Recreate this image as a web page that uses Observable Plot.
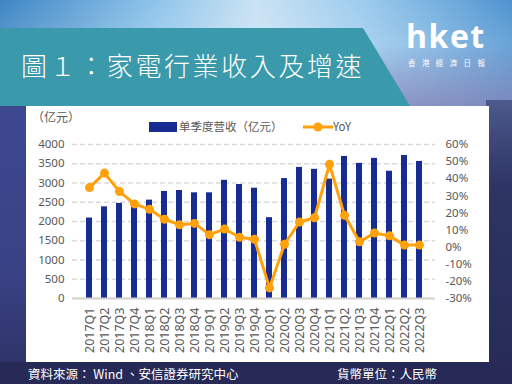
<!DOCTYPE html>
<html><head><meta charset="utf-8">
<script src="https://cdn.jsdelivr.net/npm/d3@7"></script>
<script src="https://cdn.jsdelivr.net/npm/@observablehq/plot@0.6"></script>
<style>
html,body{margin:0;padding:0;}
body{width:512px;height:384px;position:relative;overflow:hidden;background:#282c5a;font-family:"Noto Sans CJK TC","Noto Sans",sans-serif;}
#top{position:absolute;left:0;top:0;width:512px;height:110px;background:linear-gradient(90deg,#3f86c4 0%,#8ec4ea 30%,#c9e2f3 50%,#9fcdee 70%,#4f94d0 100%);}
#topshade{position:absolute;left:0;top:0;width:512px;height:110px;background:linear-gradient(180deg,rgba(255,255,255,0) 0%,rgba(255,255,255,0.15) 40%,rgba(140,130,180,0.75) 100%);}
#rightstrip{position:absolute;left:486px;top:100px;width:26px;height:284px;background:linear-gradient(180deg,#4c5a8c 0%,#2d3564 30%,#272a56 100%);}
#leftstrip{position:absolute;left:0;top:100px;width:27px;height:284px;background:linear-gradient(180deg,#3d4890 0%,#3a4286 60%,#2c3062 100%);}
#bottom{position:absolute;left:0;top:362px;width:512px;height:22px;background:#272a56;}
#banner{position:absolute;left:0;top:28px;width:410px;height:78px;background:#3a99ab;clip-path:polygon(0 0,363px 0,410px 78px,0 78px);}
#title{position:absolute;left:21px;top:48px;color:#fff;font-size:26px;letter-spacing:2.6px;font-family:"Noto Sans CJK TC",sans-serif;font-weight:300;white-space:nowrap;line-height:34px;}
#logo{position:absolute;left:406px;top:20px;color:#fff;font-family:"Open Sans","Liberation Sans",sans-serif;font-weight:700;font-size:32px;letter-spacing:1.5px;line-height:32px;}
#logosub{position:absolute;left:408px;top:58px;color:#fff;font-size:7.5px;letter-spacing:6.4px;white-space:nowrap;line-height:9px;}
#panel{position:absolute;left:26px;top:106px;width:463px;height:256px;background:#fff;}
#unit{position:absolute;left:32px;top:108px;color:#595959;font-size:12px;font-family:"Noto Sans CJK SC",sans-serif;}
.leg{position:absolute;top:118px;color:#595959;font-size:11.5px;font-family:"Noto Sans CJK SC",sans-serif;white-space:nowrap;line-height:16px;}
#src{position:absolute;left:28px;top:364px;color:#fff;font-size:12.5px;white-space:nowrap;}
#cur{position:absolute;left:337px;top:364px;color:#fff;font-size:12.5px;white-space:nowrap;}
#chart{position:absolute;left:26px;top:106px;}
</style></head>
<body>
<div id="top"></div><div id="topshade"></div>
<div id="rightstrip"></div><div id="leftstrip"></div><div id="bottom"></div>
<div id="banner"></div>
<div id="title">圖１：家電行業收入及增速</div>
<div id="logo">hket</div>
<div id="logosub">香港經濟日報</div>
<div id="panel"></div>
<div id="chart"></div>
<div id="unit">（亿元）</div>
<div class="leg" style="left:149px;"><span style="display:inline-block;width:28px;height:10px;background:#172c92;vertical-align:-1px;margin-right:2px;"></span>单季度营收（亿元）</div>
<div class="leg" style="left:303px;"><svg width="30" height="12" style="vertical-align:-2px"><line x1="0" y1="6" x2="30" y2="6" stroke="#ffa10a" stroke-width="3"/><circle cx="15" cy="6" r="4.5" fill="#ffa10a"/></svg>YoY</div>
<div id="src">資料來源： Wind 、安信證券研究中心</div>
<div id="cur">貨幣單位：人民幣</div>
<script>
const quarters = ["2017Q1","2017Q2","2017Q3","2017Q4","2018Q1","2018Q2","2018Q3","2018Q4","2019Q1","2019Q2","2019Q3","2019Q4","2020Q1","2020Q2","2020Q3","2020Q4","2021Q1","2021Q2","2021Q3","2021Q4","2022Q1","2022Q2","2022Q3"];
const revenue = [2090,2380,2470,2430,2555,2780,2805,2745,2745,3070,2960,2865,2100,3115,3405,3355,3100,3690,3510,3640,3305,3715,3560];
const yoy = [34.8,43.3,32.5,25.3,22.1,16.3,13.1,13.9,7.3,10.6,5.8,4.6,-23.8,1.7,14.7,17.2,48.4,18.6,3.1,8.3,6.6,1.2,1.2];
const leftTicks = [0,500,1000,1500,2000,2500,3000,3500,4000];
const rightTicks = [-30,-20,-10,0,10,20,30,40,50,60];

const yMin = -30, yMax = 60, revMax = 4000;
const toRev = p => (p - yMin) / (yMax - yMin) * revMax;
const barData = quarters.map((q,i)=>({q, v: revenue[i]}));
const lineData = quarters.map((q,i)=>({q, v: toRev(yoy[i])}));

const fontFam = "'Noto Sans','Liberation Sans',sans-serif";
const chart = Plot.plot({
  width: 463, height: 256,
  marginLeft: 46, marginRight: 54, marginTop: 38, marginBottom: 64,
  style: {fontFamily: fontFam, fontSize: "11.5px", color: "#595959", background: "transparent"},
  x: {domain: quarters, paddingInner: 0.62, paddingOuter: 0.38, label: null},
  y: {domain: [0, revMax], label: null},
  marks: [
    Plot.ruleY(leftTicks.filter(d=>d>0), {stroke: "#d9d9d9", strokeWidth: 1.3, strokeDasharray: "5,3"}),
    Plot.barY(barData, {x: "q", y: "v", fill: "#172c92"}),
    Plot.ruleY([0], {stroke: "#d0d0d0", strokeWidth: 2}),
    Plot.line(lineData, {x: "q", y: "v", stroke: "#ffa10a", strokeWidth: 3}),
    Plot.dot(lineData, {x: "q", y: "v", fill: "#ffa10a", r: 4.5}),
    Plot.axisY({ticks: leftTicks, tickSize: 0, tickPadding: 8, label: null, fill: "#595959", fontSize: 11.5, tickFormat: d => String(d)}),
    Plot.axisY({anchor: "right", ticks: rightTicks.map(toRev), tickSize: 0, tickPadding: 10, label: null, fill: "#595959", fontSize: 11.5,
      tickFormat: v => Math.round(v / revMax * (yMax - yMin) + yMin) + "%"}),
    Plot.axisX({tickRotate: -90, tickSize: 0, tickPadding: 9, label: null, fill: "#595959", fontSize: 12.5})
  ]
});
document.getElementById("chart").appendChild(chart);
</script>
</body></html>
